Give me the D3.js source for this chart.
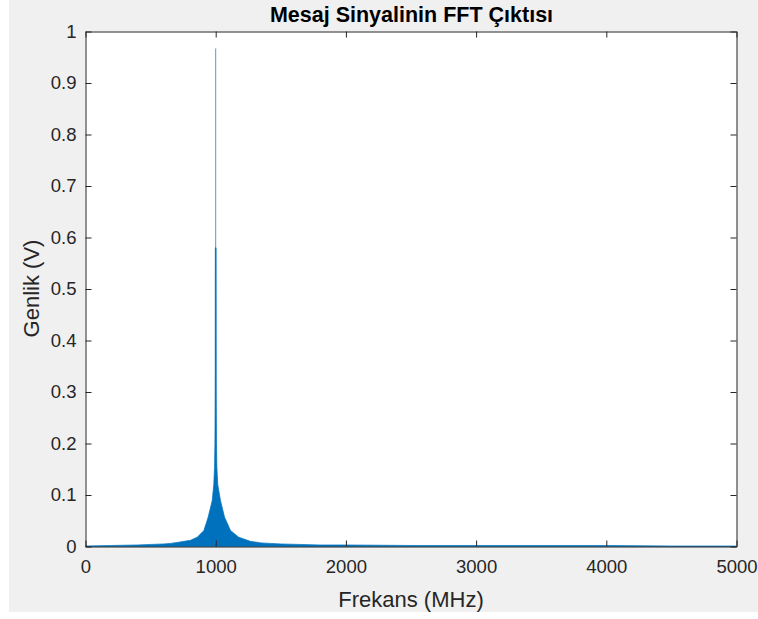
<!DOCTYPE html>
<html>
<head>
<meta charset="utf-8">
<script src="https://cdn.jsdelivr.net/npm/d3@7"></script>
<style>
  body { margin: 0; background: #ffffff; }
  text { font-family: "Liberation Sans", Arial, Helvetica, sans-serif; }
</style>
</head>
<body>
<svg id="chart" width="758" height="619"></svg>
<script>
// Axis ticks
const xTicks = [0, 1000, 2000, 3000, 4000, 5000];
const xTickLabels = ["0", "1000", "2000", "3000", "4000", "5000"];
const yTicks = [0, 0.1, 0.2, 0.3, 0.4, 0.5, 0.6, 0.7, 0.8, 0.9, 1];
const yTickLabels = ["0", "0.1", "0.2", "0.3", "0.4", "0.5", "0.6", "0.7", "0.8", "0.9", "1"];

// Spectrum envelope (MHz, V): the dense FFT bins fill up to this outline
const envFreq = [0, 200, 400, 500, 600, 653, 706, 758, 806, 858, 909, 942, 973, 985, 991, 994, 996, 997,
                 1003, 1004, 1006, 1009, 1016, 1037, 1068, 1114, 1177, 1267, 1350, 1421, 1500, 1650, 1800,
                 2000, 2500, 3000, 3500, 4000, 4500, 5000];
const envAmp  = [0.001, 0.002, 0.003, 0.004, 0.005, 0.006, 0.008, 0.010, 0.012, 0.018, 0.031, 0.057, 0.089, 0.12, 0.154, 0.2, 0.30, 0.58,
                 0.58, 0.30, 0.2, 0.154, 0.12, 0.089, 0.057, 0.031, 0.018, 0.010, 0.007, 0.006, 0.005, 0.004, 0.003,
                 0.003, 0.002, 0.002, 0.002, 0.002, 0.001, 0.001];

// Main carrier bin
const peakFreq = 1000;
const peakAmp = 0.967;

const W = 758, H = 619;
const box = { left: 85.5, right: 736.5, top: 31.5, bottom: 546.5 };
const blue = "#0072bd";
const ink = "#262626";

const svg = d3.select("#chart");

// figure background
svg.append("rect").attr("x", 9).attr("y", 0).attr("width", W - 9).attr("height", 612).attr("fill", "#f0f0f0");
// axes background
svg.append("rect").attr("x", box.left).attr("y", box.top)
  .attr("width", box.right - box.left).attr("height", box.bottom - box.top).attr("fill", "#ffffff");

const x = d3.scaleLinear().domain([0, 5000]).range([box.left, box.right]);
const y = d3.scaleLinear().domain([0, 1]).range([box.bottom, box.top]);

const env = envFreq.map((f, i) => ({ f, a: envAmp[i] }));

const plot = svg.append("g");
plot.append("path")
  .datum(env)
  .attr("fill", blue)
  .attr("stroke", blue)
  .attr("stroke-width", 0.7)
  .attr("d", d3.area().x(d => x(d.f)).y0(y(0)).y1(d => y(d.a)));

// narrow spike at the carrier
plot.append("path")
  .datum([{ f: peakFreq, a: 0 }, { f: peakFreq, a: peakAmp }])
  .attr("fill", "none")
  .attr("stroke", blue)
  .attr("stroke-opacity", 0.7)
  .attr("stroke-width", 1)
  .attr("d", d3.line().x(d => x(d.f)).y(d => y(d.a)));

// axes (box with inward ticks on all sides)
const tickLen = 6;
const axisBottom = d3.axisBottom(x).tickValues(xTicks).tickFormat((d, i) => xTickLabels[i]).tickSizeInner(-tickLen).tickSizeOuter(0).tickPadding(13);
const axisTop = d3.axisTop(x).tickValues(xTicks).tickFormat("").tickSizeInner(-tickLen).tickSizeOuter(0);
const axisLeft = d3.axisLeft(y).tickValues(yTicks).tickFormat((d, i) => yTickLabels[i]).tickSizeInner(-tickLen).tickSizeOuter(0).tickPadding(9);
const axisRight = d3.axisRight(y).tickValues(yTicks).tickFormat("").tickSizeInner(-tickLen).tickSizeOuter(0);

function styleAxis(g) {
  g.select(".domain").attr("stroke", ink).attr("stroke-width", 1);
  g.selectAll(".tick line").attr("stroke", ink).attr("stroke-width", 1);
  g.selectAll(".tick text").attr("fill", ink).style("font-size", "18.5px").style("font-family", "'Liberation Sans', Arial, sans-serif");
}

svg.append("g").attr("transform", `translate(0,${box.bottom})`).call(axisBottom).call(styleAxis);
svg.append("g").attr("transform", `translate(0,${box.top})`).call(axisTop).call(styleAxis);
svg.append("g").attr("transform", `translate(${box.left},0)`).call(axisLeft).call(styleAxis);
svg.append("g").attr("transform", `translate(${box.right},0)`).call(axisRight).call(styleAxis);

// title and axis labels
svg.append("text")
  .attr("x", 411.5).attr("y", 22)
  .attr("text-anchor", "middle")
  .attr("font-weight", "bold")
  .attr("font-size", 21.5)
  .attr("fill", "#000")
  .text("Mesaj Sinyalinin FFT Çıktısı");

svg.append("text")
  .attr("x", 411).attr("y", 607)
  .attr("text-anchor", "middle")
  .attr("font-size", 22)
  .attr("fill", ink)
  .text("Frekans (MHz)");

svg.append("text")
  .attr("transform", "translate(38.5,288.5) rotate(-90)")
  .attr("text-anchor", "middle")
  .attr("font-size", 22)
  .attr("fill", ink)
  .text("Genlik (V)");
</script>
</body>
</html>
